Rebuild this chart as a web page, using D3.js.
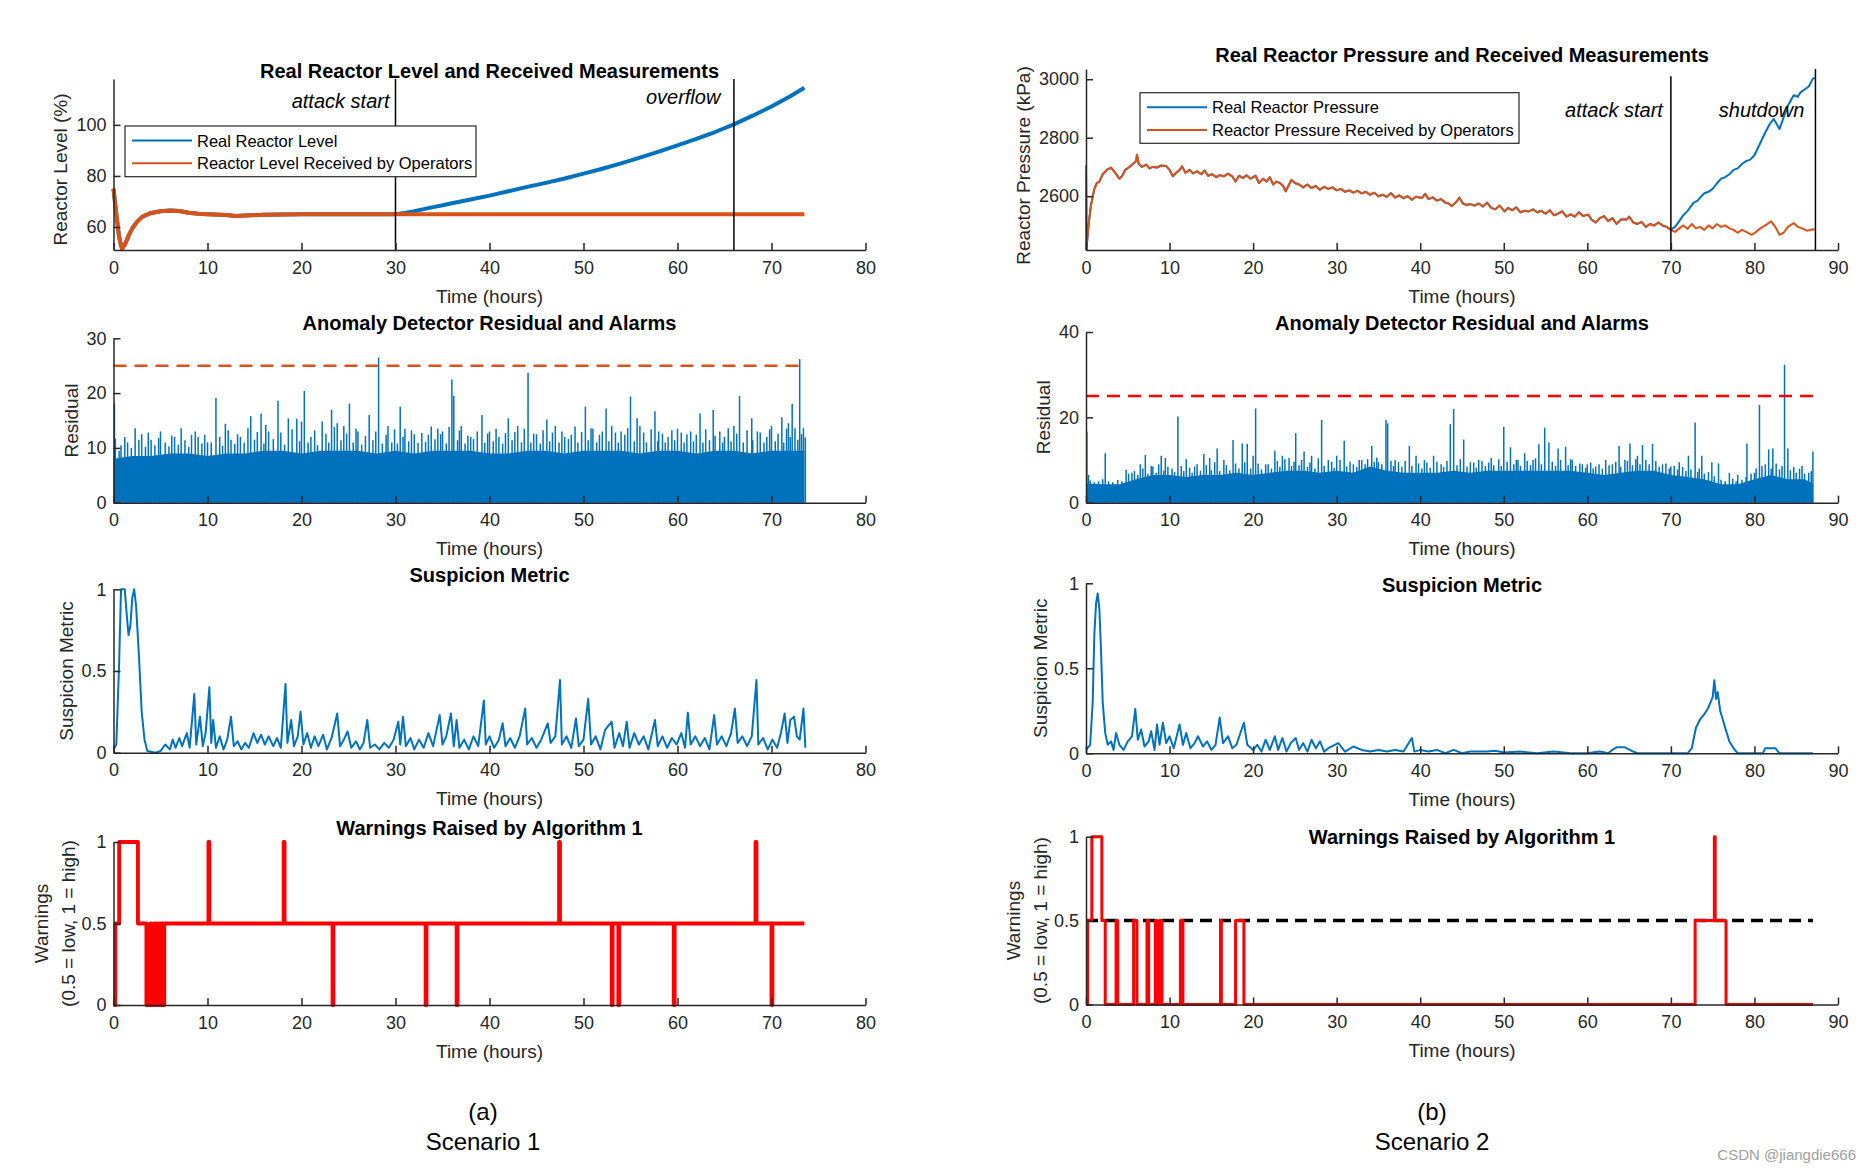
<!DOCTYPE html>
<html>
<head>
<meta charset="utf-8">
<script src="https://cdn.jsdelivr.net/npm/d3@7"></script>
<style>
  body { margin: 0; background: #fff; }
  svg text { font-family: "Liberation Sans", Arial, Helvetica, sans-serif; }
</style>
</head>
<body>
<svg id="chart" width="1870" height="1173"></svg>
<script>
// ---- data ----
const xTicksL = [0, 10, 20, 30, 40, 50, 60, 70, 80];
const xTicksR = [0, 10, 20, 30, 40, 50, 60, 70, 80, 90];

// scenario 1: reactor level (%)
const levelCommon = [[0,75],[0.3,65],[0.6,56],[0.9,51.5],[1.2,53],[1.6,56.5],[2,59.5],[2.5,62],[3,63.8],[3.5,64.8],[4,65.5],[5,66.2],[6,66.5],[7,66.3],[8,65.6],[9,65.2],[10,65],[12,64.7],[13,64.3],[14,64.5],[16,64.8],[20,65],[25,65],[30,65]];
const levelRealAfter = [[31,65.5],[32,66.2],[33,67],[34,67.8],[35,68.5],[36,69.3],[38,70.8],[40,72.3],[42,74],[44,75.7],[46,77.3],[48,79],[50,80.9],[52,82.8],[54,84.9],[56,87.2],[58,89.5],[60,92],[62,94.5],[64,97.2],[66,100.2],[68,103.6],[70,107.2],[72,111.2],[73.5,114.5]];
const levelRecvAfter = [[35,65],[40,65],[45,65],[50,65],[55,65],[60,65],[65,65],[70,65],[73.5,65]];
const legendL = ["Real Reactor Level", "Reactor Level Received by Operators"];
const markersL = [{ t: 30, label: "attack start" }, { t: 66, label: "overflow" }];

// scenario 2: reactor pressure (kPa)
const pressCommon = [[0,2705],[0.05,2418],[0.3,2500],[0.6,2570],[1,2625],[1.3,2645],[1.6,2650],[2,2675],[2.5,2690],[3,2698],[3.5,2680],[4,2660],[4.3,2668],[4.7,2690],[5.2,2700],[5.6,2710],[6,2720],[6.1,2742],[6.3,2712],[6.7,2700],[7.2,2708],[7.6,2695],[8,2700],[8.5,2698],[9,2705],[9.6,2703],[10,2690],[10.4,2668],[10.8,2680],[11.2,2690],[11.5,2702],[11.9,2680],[12.4,2690],[12.8,2678],[13.3,2685],[13.8,2675],[14.2,2688],[14.6,2670],[15.1,2675],[15.6,2665],[16,2672],[16.5,2668],[17,2677],[17.5,2668],[17.9,2650],[18.3,2670],[18.8,2662],[19.2,2672],[19.7,2660],[20.3,2670],[20.7,2645],[21.2,2660],[21.6,2650],[22,2665],[22.4,2640],[22.8,2650],[23.2,2645],[23.6,2635],[23.9,2617],[24.3,2640],[24.6,2655],[25,2645],[25.5,2640],[26,2630],[26.5,2640],[27,2628],[27.5,2635],[28,2622],[28.5,2632],[29,2625],[29.5,2630],[30,2620],[30.5,2625],[31,2615],[31.5,2620],[32,2612],[32.5,2618],[33,2610],[33.5,2615],[34,2605],[34.5,2612],[35,2600],[35.5,2605],[36,2598],[36.5,2610],[37,2595],[37.5,2603],[38,2593],[38.5,2600],[39,2588],[39.5,2598],[40.2,2594],[40.6,2608],[41,2590],[41.5,2596],[42,2585],[42.5,2590],[43,2578],[43.4,2575],[43.8,2566],[44.3,2580],[44.7,2595],[45.1,2575],[45.6,2570],[46,2573],[46.5,2568],[47,2575],[47.5,2565],[48,2578],[48.5,2560],[49,2555],[49.5,2568],[50.1,2548],[50.5,2560],[51,2552],[51.5,2562],[52,2545],[52.5,2550],[53,2548],[53.5,2555],[54,2545],[54.5,2550],[55,2540],[55.5,2552],[56,2535],[56.5,2540],[57,2548],[57.5,2530],[58,2538],[58.5,2530],[59,2545],[59.5,2532],[60.1,2537],[60.5,2520],[61,2510],[61.5,2525],[62,2532],[62.5,2515],[63,2525],[63.5,2505],[64,2520],[64.7,2520],[65,2530],[65.5,2510],[66,2505],[66.5,2512],[67,2495],[67.5,2505],[68,2500],[68.5,2510],[69,2500],[69.5,2495],[70,2485]];
const pressRealAfter = [[70.5,2495],[71,2515],[71.5,2535],[72,2550],[72.7,2577],[73.2,2585],[73.5,2595],[74,2610],[74.5,2615],[75,2625],[75.4,2640],[76,2660],[76.5,2665],[77,2675],[77.5,2690],[78,2695],[78.5,2710],[79,2720],[79.5,2725],[80,2740],[80.5,2770],[81,2800],[81.3,2818],[81.8,2845],[82.3,2864],[82.7,2845],[83,2830],[83.5,2870],[84,2910],[84.7,2945],[85.2,2940],[85.5,2955],[86,2965],[86.5,2975],[87,3002],[87.2,3005]];
const pressRecvAfter = [[70.5,2478],[71,2490],[71.5,2500],[72,2488],[72.5,2505],[73,2490],[73.5,2495],[74,2485],[74.5,2500],[75,2490],[75.5,2505],[76,2495],[76.5,2500],[77,2490],[77.5,2485],[78,2475],[78.5,2485],[79,2478],[79.7,2468],[80.2,2478],[80.7,2490],[81.3,2500],[82,2514],[82.5,2495],[83,2468],[83.5,2475],[84,2495],[84.7,2508],[85.2,2495],[85.7,2490],[86.3,2482],[87,2487],[87.2,2485]];
const legendR = ["Real Reactor Pressure", "Reactor Pressure Received by Operators"];
const markersR = [{ t: 70, top: 3010, label: "attack start" }, { t: 87.3, top: 3035, label: "shutdown" }];

// anomaly detector residual: dense band top, tall spikes, mid-height spikes
const resThreshold = 25;
const resSpanL = [0, 73.5];
const resSpanR = [0, 87];
const resBandL = [[0,8],[2,8.5],[4,8.5],[6,9],[8,9],[10,8.5],[12,9],[14,9],[16,9.5],[18,9.5],[20,9],[22,9.5],[24,9.5],[26,9.5],[28,9],[30,9.5],[32,9],[34,9.5],[36,9.5],[38,9.5],[40,9],[42,9],[44,9.5],[46,9.5],[48,9],[50,9.5],[52,9.5],[54,9.5],[56,9],[58,9.5],[60,9.5],[62,9],[64,9.5],[66,9.5],[68,9],[70,9.5],[72,9.5],[73.5,9.5]];
const resSpikesL = [[0.1,18.1],[0.2,11.7],[0.6,9.5],[1.5,11],[2.3,13.6],[3,12.5],[4,11.5],[5,13],[5.5,11],[6.5,12],[7.2,13.6],[8.3,12.4],[9,12],[10,11],[10.9,19.1],[11.9,14.4],[12.5,11.5],[13.5,12],[14.6,15.8],[15.7,16.3],[16.5,13],[17.5,18.6],[18.6,15.4],[19.5,15.3],[20.3,20.4],[21,12],[22.2,14.8],[23.2,17],[23.8,14.5],[24.5,14],[25.1,18.1],[26,13],[27.2,16],[28.2,26.5],[29.2,14],[30.5,17.5],[31,13.5],[32,12.5],[33.8,13.9],[34.5,13.5],[35,13],[36,22.5],[36.2,19.5],[37,14],[38,12],[39.2,16],[40,13],[41,12],[42,15.4],[43,14],[44.1,23.7],[45,12.5],[46.1,15.2],[47,14],[48,12],[49.1,13.9],[50.2,17.5],[51,13.5],[52.4,17.2],[53,14],[54,13],[55,19.4],[55.7,15.4],[56,14],[57.6,16.7],[58,13],[59,12],[60,13.5],[61,12.5],[62.4,16.3],[63.8,16.9],[64.5,13],[65,12],[66,14],[66.6,19.5],[67.9,15.4],[68.5,13],[69.5,12],[70,14],[71.1,15.6],[71.6,13.5],[72.2,18],[73,26.2],[73.4,13.6],[73.6,11.9]];
const resMidL = [[0.8,10.5],[1.2,12],[1.9,10],[2.7,11.5],[3.4,10.2],[3.7,12.8],[4.4,10.5],[4.8,11.8],[5.9,10.3],[6.2,12.2],[6.9,10.6],[7.6,11.4],[8,10.2],[8.7,13],[9.4,10.8],[9.7,12.4],[10.4,11],[11.3,12],[11.6,10.4],[12.2,13.2],[12.9,10.7],[13.2,12.5],[13.9,11],[14.3,13.6],[15,11.5],[15.3,12.9],[16,10.8],[16.2,14.2],[17,11.6],[17.8,12.8],[18.2,10.6],[19,13.4],[19.8,11.2],[20,14.8],[20.7,11],[21.4,13.2],[21.7,10.5],[22.6,12.6],[22.9,11],[23.5,13.8],[24.2,11.4],[24.8,12.6],[25.5,11],[25.8,13.5],[26.4,10.6],[26.8,12.2],[27.6,11.4],[27.9,13],[28.6,10.8],[29,12.4],[29.6,11],[29.9,13.4],[30.2,10.8],[30.8,12],[31.4,11.2],[31.7,13.2],[32.4,10.9],[32.8,12.7],[33.2,11.1],[33.5,12.4],[34.2,11.6],[34.8,12.5],[35.4,10.8],[35.7,13.8],[36.6,11.4],[36.8,13.2],[37.4,10.8],[37.7,12.2],[38.3,11.6],[38.7,13],[39.5,10.9],[39.8,12.6],[40.4,11.2],[40.7,13.5],[41.4,10.8],[41.7,12.7],[42.4,11.4],[42.7,12.9],[43.4,11],[43.7,13.5],[44.4,11],[44.7,12.6],[45.4,10.8],[45.7,13.2],[46.4,11.2],[46.7,12.8],[47.4,11],[47.7,13],[48.4,11.6],[48.7,12.4],[49.4,11],[49.8,12.9],[50.5,11.4],[50.8,13.6],[51.4,11],[51.7,12.4],[52,13],[52.7,11.2],[53.4,12.8],[53.7,11],[54.4,12.4],[54.7,13.6],[55.4,11.2],[56.4,12.8],[56.7,11],[57.2,13.4],[57.9,11.2],[58.4,12.6],[58.7,11],[59.4,13.2],[59.7,11.4],[60.4,12.8],[60.7,11],[61.4,13],[61.7,11.2],[62,12.4],[62.7,11],[63,13.4],[63.4,11.4],[64,12.2],[64.8,11],[65.4,13.6],[65.7,11.2],[66.3,12.6],[67,11],[67.4,13.2],[68,11.4],[68.8,12.8],[69.2,11],[69.8,13.4],[70.4,11.2],[70.7,12.6],[71.3,11],[71.8,14.5],[72,12],[72.5,13.6],[72.8,11.5],[73.2,12.5]];
const resBandR = [[0,4.5],[2,4.3],[4,4.3],[6,5.5],[8,6.5],[10,6.5],[12,6],[14,6.5],[16,6.5],[18,7],[20,6.5],[22,7],[24,7.5],[26,7.5],[28,7],[30,7.5],[32,7],[34,8.5],[36,7.5],[38,7],[40,7],[42,7],[44,7.5],[46,7],[48,7.5],[50,7.5],[52,7.5],[54,7.5],[56,7.5],[58,7.5],[60,7],[62,6.5],[64,7],[66,7.5],[68,7.5],[70,6.5],[72,6],[74,5.5],[76,4.3],[78,4.3],[80,5.5],[82,6.5],[84,5.5],[86,5.5],[87,4.5]];
const resSpikesR = [[0.1,16.6],[0.3,6.5],[2.3,11.6],[4.8,7.7],[5.5,7],[6.5,9],[7.1,11.2],[8,8.5],[9,11],[9.5,10.5],[10.3,8],[11,20.2],[12,10.2],[13,8.5],[14.1,11.4],[14.8,10.5],[15.7,12.7],[16.5,10],[17.6,14.7],[18.7,13.9],[19.3,13.8],[20,11],[20.3,22.1],[21.5,9],[22.6,12.2],[23.5,11],[24.3,10.5],[25.1,16.3],[26.1,12],[27,11],[28.2,19.4],[29,10],[30,11],[30.9,14.5],[32,9],[33,10],[34.2,13.3],[35,9.5],[35.9,19.4],[36.1,18.6],[37,10],[38.7,13.3],[39.5,11],[40.5,10],[41.6,11],[42.5,9],[43.6,18.4],[44,22],[45.2,14.8],[46,9.5],[47,10],[48.5,10.5],[50,17.8],[50.8,13],[51.7,10],[52.5,11.6],[53.5,10],[54.2,13.7],[54.9,17.6],[55.4,14.1],[56.5,12.7],[57.4,13.1],[58.2,10],[59.1,9.2],[60,9],[61,8.5],[62.2,10],[63,9],[63.8,13.3],[64.5,10],[65.1,13.9],[66,11],[66.6,13.5],[67.8,13.8],[69,9],[70,8.5],[71,9.5],[72.1,11],[72.9,18.8],[73.7,11],[74.9,9.5],[75.7,9.2],[77,7],[78,6.5],[79.1,13.9],[80,7],[80.6,22.9],[81.7,12.5],[82.2,12.7],[83.6,32.3],[84,12.7],[84.7,8.4],[85.7,8.6],[86.5,7],[87,12]];
const resMidR = [[0.5,5.2],[1,4.8],[1.5,5],[2,5.5],[2.7,5],[3.2,4.8],[3.8,5.3],[4.3,5],[5.1,6.8],[5.8,7.4],[6.2,6.5],[6.8,8],[7.4,6.8],[7.8,8.6],[8.4,7],[8.7,9],[9.3,7.5],[9.8,8.4],[10.6,7.2],[11.4,8.6],[11.7,7.4],[12.4,8.2],[12.7,7],[13.3,9],[13.7,7.5],[14.4,8.8],[15,7.6],[15.4,9.5],[16,7.4],[16.8,8.8],[17.2,7.6],[17.9,9.2],[18.3,8],[19,9.5],[19.7,8],[20.6,9.2],[21,7.8],[21.8,9],[22.2,8],[22.9,9.8],[23.2,8.4],[23.8,10.2],[24.6,8.6],[24.9,9.6],[25.5,8.8],[25.8,10],[26.5,8.4],[26.8,9.4],[27.4,8],[27.8,10.4],[28.5,8.6],[29.4,9.6],[29.7,8.2],[30.4,10],[31.2,8.5],[31.6,9.6],[32.4,8.4],[32.7,10],[33.4,9],[33.7,10.2],[34.5,9.6],[34.8,10.6],[35.4,9],[36.5,9.8],[36.8,8.6],[37.4,9.5],[37.8,8.4],[38.2,9.8],[39,8.6],[39.8,9.2],[40.2,8],[40.8,9.4],[41.2,8.2],[42,9.6],[42.8,8.4],[43.2,9.8],[44.4,8.8],[44.8,10.2],[45.6,8.4],[46.4,9.4],[46.7,8.2],[47.4,9.8],[47.8,8.6],[48.2,9.4],[48.8,8.8],[49.4,10.2],[49.7,8.6],[50.4,9.6],[51.2,9],[51.5,10],[52,8.6],[52.8,9.8],[53.2,8.8],[53.8,10.4],[54.5,9],[55.8,9.6],[56.2,8.6],[56.8,10],[57.7,8.8],[58,10.2],[58.6,8.6],[59.4,9],[59.8,8.2],[60.4,9.4],[60.7,8],[61.4,9],[61.8,8],[62.6,8.8],[63.4,9.6],[64,8.4],[64.8,9.8],[65.4,8.8],[65.8,10.2],[66.3,9],[67,10],[67.4,9],[68.2,9.8],[68.6,8.4],[69.4,9.2],[69.8,8],[70.4,8.6],[70.8,7.8],[71.4,8.4],[71.8,7.4],[72.4,7.8],[73.2,7.2],[73.4,8],[74,6.8],[74.5,7.2],[75.2,6.2],[76,5.4],[76.5,5],[77.4,5.6],[77.8,5],[78.5,5.4],[79,6],[79.6,6.8],[80.2,8],[80.9,8.6],[81.3,9],[82,8],[82.6,9.2],[83,7.8],[83.3,8.6],[84.3,7.6],[85,7],[85.4,8],[86,6.8],[86.8,7.4]];

// suspicion metric
const suspL = [[0,0.02],[0.3,0.05],[0.6,0.55],[0.8,1],[1.2,1],[1.4,0.85],[1.6,0.72],[1.8,0.78],[2.0,0.95],[2.2,1],[2.4,0.9],[2.7,0.6],[3.0,0.25],[3.3,0.08],[3.6,0.01],[4.5,0],[5.0,0.01],[5.5,0.05],[6.0,0.02],[6.3,0.08],[6.6,0.03],[7.0,0.09],[7.3,0.04],[7.8,0.12],[8.1,0.03],[8.6,0.36],[8.8,0.05],[9.2,0.22],[9.5,0.04],[9.8,0.12],[10.2,0.4],[10.4,0.06],[10.6,0.2],[10.9,0.03],[11.3,0.1],[11.7,0.02],[12.1,0.08],[12.5,0.22],[12.8,0.04],[13.2,0.07],[13.6,0.02],[14.0,0.06],[14.4,0.03],[14.9,0.12],[15.3,0.06],[15.7,0.11],[16.1,0.05],[16.5,0.1],[17.0,0.04],[17.4,0.09],[17.8,0.03],[18.3,0.42],[18.5,0.06],[18.9,0.2],[19.2,0.04],[19.6,0.1],[19.9,0.25],[20.2,0.05],[20.6,0.12],[21.0,0.03],[21.4,0.1],[21.8,0.04],[22.3,0.11],[22.7,0.02],[23.2,0.09],[23.8,0.24],[24.1,0.04],[24.5,0.08],[24.9,0.13],[25.3,0.03],[25.8,0.07],[26.2,0.02],[26.6,0.06],[27.0,0.2],[27.3,0.03],[27.8,0.05],[28.3,0.02],[28.8,0.06],[29.3,0.03],[29.8,0.08],[30.3,0.19],[30.5,0.05],[30.8,0.22],[31.1,0.04],[31.6,0.09],[32.0,0.02],[32.5,0.08],[33.0,0.03],[33.5,0.12],[34.0,0.04],[34.7,0.23],[35.0,0.05],[35.4,0.1],[35.9,0.24],[36.2,0.04],[36.5,0.2],[36.8,0.03],[37.3,0.08],[37.8,0.02],[38.3,0.1],[38.8,0.04],[39.4,0.32],[39.6,0.05],[40.0,0.1],[40.5,0.03],[41.0,0.08],[41.4,0.18],[41.7,0.04],[42.2,0.09],[42.7,0.03],[43.2,0.1],[43.8,0.27],[44.0,0.05],[44.5,0.09],[45.0,0.03],[45.5,0.08],[46.2,0.18],[46.5,0.06],[47.0,0.1],[47.5,0.445],[47.7,0.05],[48.2,0.1],[48.7,0.03],[49.2,0.21],[49.5,0.04],[50.0,0.08],[50.5,0.33],[50.8,0.05],[51.3,0.1],[51.8,0.02],[52.3,0.14],[53.0,0.19],[53.3,0.03],[53.8,0.12],[54.2,0.04],[54.6,0.19],[54.9,0.03],[55.4,0.12],[55.9,0.05],[56.4,0.1],[56.9,0.02],[57.6,0.2],[57.9,0.04],[58.4,0.1],[58.9,0.03],[59.4,0.09],[59.9,0.05],[60.4,0.12],[60.8,0.03],[61.1,0.245],[61.4,0.05],[61.9,0.1],[62.4,0.04],[62.9,0.09],[63.4,0.02],[63.9,0.23],[64.2,0.05],[64.7,0.1],[65.2,0.04],[65.7,0.12],[66.1,0.27],[66.4,0.06],[66.9,0.1],[67.4,0.04],[67.9,0.1],[68.4,0.445],[68.6,0.05],[69.1,0.09],[69.6,0.02],[70.1,0.08],[70.6,0.03],[71.0,0.12],[71.4,0.24],[71.7,0.06],[72.0,0.2],[72.4,0.22],[72.7,0.1],[73.0,0.08],[73.4,0.27],[73.6,0.03]];
const suspR = [[0,0.02],[0.5,0.05],[0.8,0.3],[1.0,0.7],[1.2,0.88],[1.4,0.94],[1.6,0.85],[1.8,0.6],[2.0,0.3],[2.3,0.12],[2.6,0.05],[3,0.07],[3.3,0.02],[3.6,0.12],[4,0.05],[4.5,0.02],[5,0.07],[5.5,0.1],[5.9,0.26],[6.2,0.08],[6.6,0.14],[7,0.04],[7.5,0.07],[7.8,0.13],[8.2,0.02],[8.5,0.17],[8.8,0.05],[9.2,0.18],[9.6,0.06],[10,0.1],[10.5,0.03],[11.2,0.17],[11.6,0.05],[12,0.12],[12.5,0.03],[13,0.06],[13.4,0.1],[14,0.04],[14.5,0.07],[15,0.02],[15.5,0.05],[16,0.21],[16.4,0.06],[17,0.1],[17.5,0.03],[18,0.05],[18.9,0.18],[19.3,0.05],[20,0.02],[20.5,0.05],[21,0.01],[21.5,0.08],[22,0.02],[22.6,0.1],[23,0.02],[23.5,0.09],[24,0.01],[24.5,0.06],[25.1,0.09],[25.5,0.02],[26,0.06],[26.5,0.01],[27,0.08],[27.5,0.03],[28,0.07],[28.5,0.01],[29,0.03],[30.2,0.06],[31,0.01],[32,0.04],[33,0.02],[34,0.01],[35,0.02],[36,0.01],[37,0.02],[38,0.01],[39,0.09],[39.3,0.01],[40,0.02],[41,0.01],[42,0.02],[43,0],[44,0.02],[45,0],[46,0.01],[48,0.01],[49,0.015],[50,0.005],[52,0.01],[54,0],[56,0.01],[58,0],[60,0],[61.5,0.01],[62.5,0],[63,0.02],[63.5,0.035],[64.5,0.035],[65.5,0.01],[66,0],[72,0],[72.5,0.03],[73,0.15],[73.5,0.2],[74,0.23],[74.5,0.27],[75,0.33],[75.2,0.43],[75.4,0.32],[75.6,0.36],[75.9,0.25],[76.5,0.15],[77,0.07],[77.5,0.03],[78,0],[81,0],[81.3,0.03],[82.5,0.03],[83,0],[87,0]];

// warnings raised by algorithm 1 (change points of a step signal)
const warnL = [[0,0],[0.2,0.5],[0.6,1],[2.6,0.5],[3.5,0],[3.9,0.5],[4.0,0],[4.3,0.5],[4.4,0],[4.6,0.5],[4.7,0],[4.9,0.5],[5.0,0],[5.2,0.5],[5.3,0],[5.4,0.5],[10.1,1],[10.2,0.5],[18.1,1],[18.2,0.5],[23.3,0],[23.4,0.5],[33.2,0],[33.3,0.5],[36.5,0],[36.6,0.5],[47.4,1],[47.5,0.5],[53.0,0],[53.1,0.5],[53.7,0],[53.8,0.5],[59.6,0],[59.7,0.5],[68.3,1],[68.4,0.5],[70.0,0],[70.1,0.5],[73.5,0.5]];
const warnR = [[0,0],[0.2,0.5],[0.7,1],[1.9,0.5],[2.3,0],[3.6,0.5],[3.8,0],[5.7,0.5],[6.1,0],[7.3,0.5],[7.5,0],[8.3,0.5],[8.5,0],[8.8,0.5],[9.1,0],[11.3,0.5],[11.6,0],[16.1,0.5],[16.2,0],[17.9,0.5],[18.9,0],[72.9,0.5],[75.2,1],[75.3,0.5],[76.6,0],[87,0]];
const warnLevel = 0.5;
const warnLevelSpanR = [0, 87];

// ---- drawing ----
const BLUE = "#0072BD", ORANGE = "#D95319", RED = "#FF0000", AXIS = "#262626";
const svg = d3.select("#chart");
svg.append("rect").attr("width", 1870).attr("height", 1173).attr("fill", "#fff");

const colL = [113.5, 865.5];
const colR = [1086, 1838];

function frame(p) {
  const x = d3.scaleLinear().domain(p.xDomain).range(p.xRange);
  const y = d3.scaleLinear().domain(p.yDomain).range(p.yRange);
  const g = svg.append("g");
  const plot = g.append("g");
  const axes = g.append("g");
  const fmt = d3.format("~g");

  const xa = axes.append("g")
    .attr("transform", `translate(0,${p.yRange[0]})`)
    .call(d3.axisBottom(x).tickValues(p.xTicks).tickSizeInner(-7).tickSizeOuter(0).tickPadding(11).tickFormat(fmt));
  const ya = axes.append("g")
    .attr("transform", `translate(${p.xRange[0]},0)`)
    .call(d3.axisLeft(y).tickValues(p.yTicks).tickSizeInner(-7).tickSizeOuter(0).tickPadding(7).tickFormat(fmt));
  [xa, ya].forEach((a) => {
    a.selectAll("path, line").attr("stroke", AXIS).attr("stroke-width", 1.5);
    a.selectAll("text").attr("fill", AXIS).attr("font-size", 18);
  });

  const cx = (p.xRange[0] + p.xRange[1]) / 2;
  g.append("text")
    .attr("x", cx).attr("y", p.titleY)
    .attr("text-anchor", "middle").attr("dominant-baseline", "central")
    .attr("font-weight", "bold").attr("font-size", 20).attr("fill", "#000")
    .text(p.title);
  g.append("text")
    .attr("x", cx).attr("y", p.yRange[0] + 46)
    .attr("text-anchor", "middle").attr("dominant-baseline", "central")
    .attr("font-size", 19).attr("fill", AXIS)
    .text("Time (hours)");
  const cy = (p.yRange[0] + p.yRange[1]) / 2 + (p.ylabelDy || 0);
  p.ylabel.forEach((t, i) => {
    g.append("text")
      .attr("transform", `translate(${p.xRange[0] - p.ylabelDx[i]},${cy}) rotate(-90)`)
      .attr("text-anchor", "middle").attr("dominant-baseline", "central")
      .attr("font-size", 19).attr("fill", AXIS)
      .text(t);
  });
  return { x, y, plot };
}

function path(plot, x, y, data, color, width, curve) {
  plot.append("path")
    .datum(data)
    .attr("fill", "none")
    .attr("stroke", color)
    .attr("stroke-width", width)
    .attr("stroke-linejoin", "round")
    .attr("d", d3.line().x((d) => x(d[0])).y((d) => y(d[1])).curve(curve || d3.curveLinear));
}

function legend(plot, box, labels, colors) {
  plot.append("rect")
    .attr("x", box.x).attr("y", box.y).attr("width", box.w).attr("height", box.h)
    .attr("fill", "#fff").attr("stroke", AXIS).attr("stroke-width", 1.2);
  labels.forEach((label, i) => {
    const ly = box.y + 14.5 + i * 22.8;
    plot.append("line")
      .attr("x1", box.x + 7).attr("x2", box.x + 67).attr("y1", ly).attr("y2", ly)
      .attr("stroke", colors[i]).attr("stroke-width", 2);
    plot.append("text")
      .attr("x", box.x + 72).attr("y", ly)
      .attr("dominant-baseline", "central").attr("font-size", 16.5).attr("fill", "#000")
      .text(label);
  });
}

function markers(plot, x, y, list, yDomain, labelY, gaps) {
  list.forEach((m, i) => {
    plot.append("line")
      .attr("x1", x(m.t)).attr("x2", x(m.t))
      .attr("y1", y(yDomain[0])).attr("y2", y(m.top != null ? m.top : yDomain[1]))
      .attr("stroke", "#000").attr("stroke-width", 1.5);
    plot.append("text")
      .attr("x", x(m.t) - gaps[i]).attr("y", labelY[i])
      .attr("text-anchor", "end").attr("dominant-baseline", "central")
      .attr("font-style", "italic").attr("font-size", 20).attr("fill", "#000")
      .text(m.label);
  });
}

function residual(f, band, spikes, mids, span, threshColor) {
  f.plot.append("path")
    .datum(band)
    .attr("fill", BLUE)
    .attr("d", d3.area().x((d) => f.x(d[0])).y0(f.y(0)).y1((d) => f.y(d[1])));
  f.plot.selectAll(".spike")
    .data(mids.concat(spikes))
    .join("line")
    .attr("class", "spike")
    .attr("x1", (d) => f.x(d[0])).attr("x2", (d) => f.x(d[0]))
    .attr("y1", f.y(0)).attr("y2", (d) => f.y(d[1]))
    .attr("stroke", BLUE).attr("stroke-width", 1.5);
  f.plot.append("line")
    .attr("x1", f.x(span[0])).attr("x2", f.x(span[1]))
    .attr("y1", f.y(resThreshold)).attr("y2", f.y(resThreshold))
    .attr("stroke", threshColor).attr("stroke-width", 2.5).attr("stroke-dasharray", "13 8");
}

// ---- scenario 1 (left column) ----
{
  const yDom = [51, 118];
  const f = frame({ xDomain: [0, 80], xRange: colL, yDomain: yDom, yRange: [250, 78.9], xTicks: xTicksL, yTicks: [60, 80, 100],
    title: "Real Reactor Level and Received Measurements", titleY: 70.7, ylabel: ["Reactor Level (%)"], ylabelDx: [52.7], ylabelDy: 5 });
  path(f.plot, f.x, f.y, levelCommon.concat(levelRealAfter), BLUE, 4);
  path(f.plot, f.x, f.y, levelCommon.concat(levelRecvAfter), ORANGE, 4);
  markers(f.plot, f.x, f.y, markersL, yDom, [100.7, 96.7], [6, 13.5]);
  legend(f.plot, { x: 125, y: 126, w: 351, h: 50.7 }, legendL, [BLUE, ORANGE]);
}
{
  const f = frame({ xDomain: [0, 80], xRange: colL, yDomain: [0, 30], yRange: [502.7, 338.3], xTicks: xTicksL, yTicks: [0, 10, 20, 30],
    title: "Anomaly Detector Residual and Alarms", titleY: 323.3, ylabel: ["Residual"], ylabelDx: [42] });
  residual(f, resBandL, resSpikesL, resMidL, resSpanL, ORANGE);
}
{
  const f = frame({ xDomain: [0, 80], xRange: colL, yDomain: [0, 1], yRange: [752.7, 589.3], xTicks: xTicksL, yTicks: [0, 0.5, 1],
    title: "Suspicion Metric", titleY: 575, ylabel: ["Suspicion Metric"], ylabelDx: [46.7] });
  path(f.plot, f.x, f.y, suspL, BLUE, 2);
}
{
  const f = frame({ xDomain: [0, 80], xRange: colL, yDomain: [0, 1], yRange: [1005, 842], xTicks: xTicksL, yTicks: [0, 0.5, 1],
    title: "Warnings Raised by Algorithm 1", titleY: 828.3, ylabel: ["Warnings", "(0.5 = low, 1 = high)"], ylabelDx: [72, 45.5] });
  path(f.plot, f.x, f.y, warnL, RED, 3.8, d3.curveStepAfter);
}

// ---- scenario 2 (right column) ----
{
  const yDom = [2416, 3035];
  const f = frame({ xDomain: [0, 90], xRange: colR, yDomain: yDom, yRange: [250, 69], xTicks: xTicksR, yTicks: [2600, 2800, 3000],
    title: "Real Reactor Pressure and Received Measurements", titleY: 55, ylabel: ["Reactor Pressure (kPa)"], ylabelDx: [63], ylabelDy: 6 });
  path(f.plot, f.x, f.y, pressCommon.concat(pressRealAfter), BLUE, 2);
  path(f.plot, f.x, f.y, pressCommon.concat(pressRecvAfter), ORANGE, 2);
  markers(f.plot, f.x, f.y, markersR, yDom, [110, 110], [8, 11]);
  legend(f.plot, { x: 1140, y: 92.7, w: 379, h: 50.6 }, legendR, [BLUE, ORANGE]);
}
{
  const f = frame({ xDomain: [0, 90], xRange: colR, yDomain: [0, 40], yRange: [502.7, 332], xTicks: xTicksR, yTicks: [0, 20, 40],
    title: "Anomaly Detector Residual and Alarms", titleY: 323.3, ylabel: ["Residual"], ylabelDx: [42.5] });
  residual(f, resBandR, resSpikesR, resMidR, resSpanR, RED);
}
{
  const f = frame({ xDomain: [0, 90], xRange: colR, yDomain: [0, 1], yRange: [753.3, 583.3], xTicks: xTicksR, yTicks: [0, 0.5, 1],
    title: "Suspicion Metric", titleY: 584.5, ylabel: ["Suspicion Metric"], ylabelDx: [46] });
  path(f.plot, f.x, f.y, suspR, BLUE, 2);
}
{
  const f = frame({ xDomain: [0, 90], xRange: colR, yDomain: [0, 1], yRange: [1004.5, 836.7], xTicks: xTicksR, yTicks: [0, 0.5, 1],
    title: "Warnings Raised by Algorithm 1", titleY: 836.7, ylabel: ["Warnings", "(0.5 = low, 1 = high)"], ylabelDx: [72.3, 46] });
  f.plot.append("line")
    .attr("x1", f.x(warnLevelSpanR[0])).attr("x2", f.x(warnLevelSpanR[1]))
    .attr("y1", f.y(warnLevel)).attr("y2", f.y(warnLevel))
    .attr("stroke", "#000").attr("stroke-width", 3.5).attr("stroke-dasharray", "12 7");
  path(f.plot, f.x, f.y, warnR, RED, 3, d3.curveStepAfter);
}

// ---- captions ----
[["(a)", "Scenario 1", 483], ["(b)", "Scenario 2", 1432]].forEach(([a, b, cx]) => {
  svg.append("text").attr("x", cx).attr("y", 1111).attr("text-anchor", "middle")
    .attr("dominant-baseline", "central").attr("font-size", 24).attr("fill", "#000").text(a);
  svg.append("text").attr("x", cx).attr("y", 1141).attr("text-anchor", "middle")
    .attr("dominant-baseline", "central").attr("font-size", 24).attr("fill", "#000").text(b);
});
svg.append("text").attr("x", 1856).attr("y", 1154).attr("text-anchor", "end")
  .attr("dominant-baseline", "central").attr("font-size", 15).attr("fill", "#a0a0a0")
  .text("CSDN @jiangdie666");
</script>
</body>
</html>
